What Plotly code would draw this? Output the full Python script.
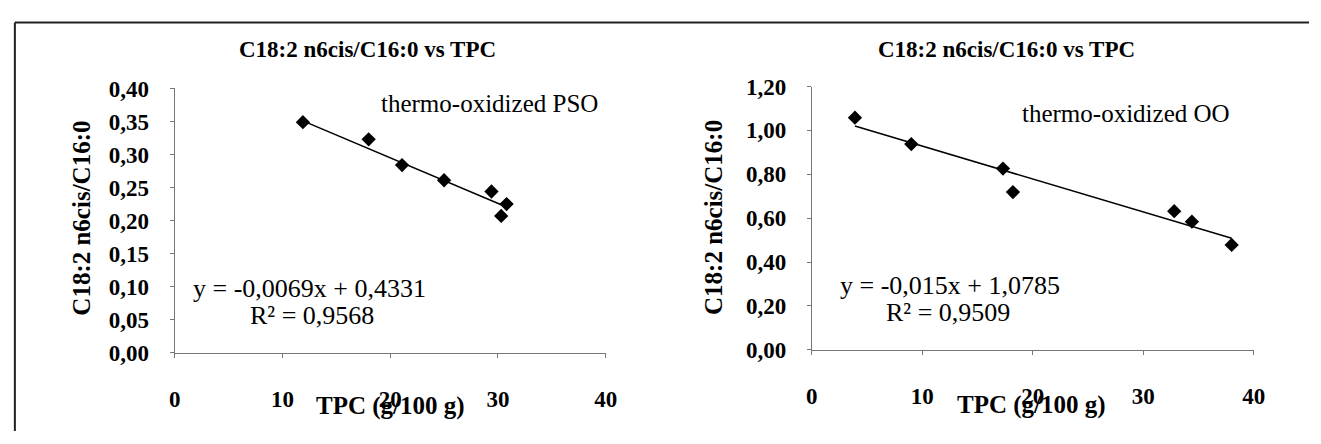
import plotly.graph_objects as go

# ---------------- data ----------------
pso_tpc = [11.9, 18.0, 21.1, 25.0, 29.4, 30.8, 30.3]
pso_ratio = [0.349, 0.323, 0.284, 0.261, 0.244, 0.225, 0.207]
pso_slope, pso_intercept = -0.0069, 0.4331

oo_tpc = [3.9, 9.0, 17.3, 18.2, 32.8, 34.4, 38.0]
oo_ratio = [1.058, 0.938, 0.826, 0.719, 0.632, 0.584, 0.478]
oo_slope, oo_intercept = -0.015, 1.0785

x_ticks = [0, 10, 20, 30, 40]
x_tick_labels = ["0", "10", "20", "30", "40"]
pso_y_ticks = [0.0, 0.05, 0.10, 0.15, 0.20, 0.25, 0.30, 0.35, 0.40]
pso_y_labels = ["0,00", "0,05", "0,10", "0,15", "0,20", "0,25", "0,30", "0,35", "0,40"]
oo_y_ticks = [0.0, 0.2, 0.4, 0.6, 0.8, 1.0, 1.2]
oo_y_labels = ["0,00", "0,20", "0,40", "0,60", "0,80", "1,00", "1,20"]

chart_title = "C18:2 n6cis/C16:0 vs TPC"
y_title = "C18:2 n6cis/C16:0"
x_title = "TPC (g/100 g)"

W, H = 1321, 444
FONT = "Liberation Serif, Times New Roman, serif"


def px(x):
    return x / W


def py(y):
    return 1 - y / H


fig = go.Figure()

# markers
fig.add_trace(go.Scatter(x=pso_tpc, y=pso_ratio, mode="markers",
                         marker=dict(symbol="diamond", size=11, color="black"),
                         xaxis="x", yaxis="y", showlegend=False, cliponaxis=False))
fig.add_trace(go.Scatter(x=oo_tpc, y=oo_ratio, mode="markers",
                         marker=dict(symbol="diamond", size=11, color="black"),
                         xaxis="x2", yaxis="y2", showlegend=False, cliponaxis=False))

# trend lines from printed equations over the data range
for xs, a, b, xa, ya in [(pso_tpc, pso_slope, pso_intercept, "x", "y"),
                         (oo_tpc, oo_slope, oo_intercept, "x2", "y2")]:
    x0, x1 = min(xs), max(xs)
    fig.add_trace(go.Scatter(x=[x0, x1], y=[a * x0 + b, a * x1 + b], mode="lines",
                             line=dict(color="black", width=1.5),
                             xaxis=xa, yaxis=ya, showlegend=False, cliponaxis=False))

axis_common = dict(showgrid=False, zeroline=False, showline=True, linecolor="#777",
                   linewidth=1, ticks="outside", ticklen=4, tickcolor="#777",
                   tickfont=dict(family=FONT, size=23, color="black", weight="bold"))

fig.update_layout(
    width=W, height=H,
    margin=dict(l=0, r=0, t=0, b=0),
    paper_bgcolor="white", plot_bgcolor="white",
    xaxis=dict(domain=[px(171), px(608)], range=[0, 40], anchor="y",
               tickvals=x_ticks, ticktext=x_tick_labels, ticklabelstandoff=22,
               **axis_common),
    yaxis=dict(domain=[py(361), py(81)], range=[0, 0.4], anchor="x",
               tickvals=pso_y_ticks, ticktext=pso_y_labels, ticklabelstandoff=16,
               **axis_common),
    xaxis2=dict(domain=[px(817), px(1265)], range=[0, 40], anchor="y2",
                tickvals=x_ticks, ticktext=x_tick_labels, ticklabelstandoff=22,
                **axis_common),
    yaxis2=dict(domain=[py(358), py(79)], range=[0, 1.2], anchor="x2",
                tickvals=oo_y_ticks, ticktext=oo_y_labels, ticklabelstandoff=16,
                **axis_common),
)

ann = []


def text(x, y, s, size, bold=False, angle=0):
    ann.append(dict(x=px(x), y=py(y), xref="paper", yref="paper", text=s,
                    showarrow=False, textangle=angle, xanchor="center", yanchor="middle",
                    font=dict(family=FONT, size=size, color="black",
                              weight="bold" if bold else "normal")))


# titles
text(366, 40, chart_title, 23, bold=True)
text(1014, 40, chart_title, 23, bold=True)
# y titles
text(77, 218, y_title, 25, bold=True, angle=-90)
text(717, 218, y_title, 25, bold=True, angle=-90)
# x titles
text(390, 418, x_title, 25, bold=True)
text(1040, 416, x_title, 25, bold=True)
# labels
text(490, 97, "thermo-oxidized PSO", 25)
text(1135, 108, "thermo-oxidized OO", 25)
text(308, 293, "y = -0,0069x + 0,4331", 26)
text(310, 322, "R² = 0,9568", 26)
text(957, 290, "y = -0,015x + 1,0785", 26)
text(955, 318, "R² = 0,9509", 26)

fig.update_layout(annotations=ann)

# outer frame (top and left edges)
fig.add_shape(type="line", xref="paper", yref="paper", x0=px(9), x1=1, y0=py(11), y1=py(11),
              line=dict(color="#222", width=2))
fig.add_shape(type="line", xref="paper", yref="paper", x0=px(9), x1=px(9), y0=py(11), y1=0,
              line=dict(color="#222", width=2))

fig.write_html("out.html",
               config={"displayModeBar": False, "staticPlot": True},
               post_script="document.body.style.margin='0';document.body.style.overflow='hidden';")
